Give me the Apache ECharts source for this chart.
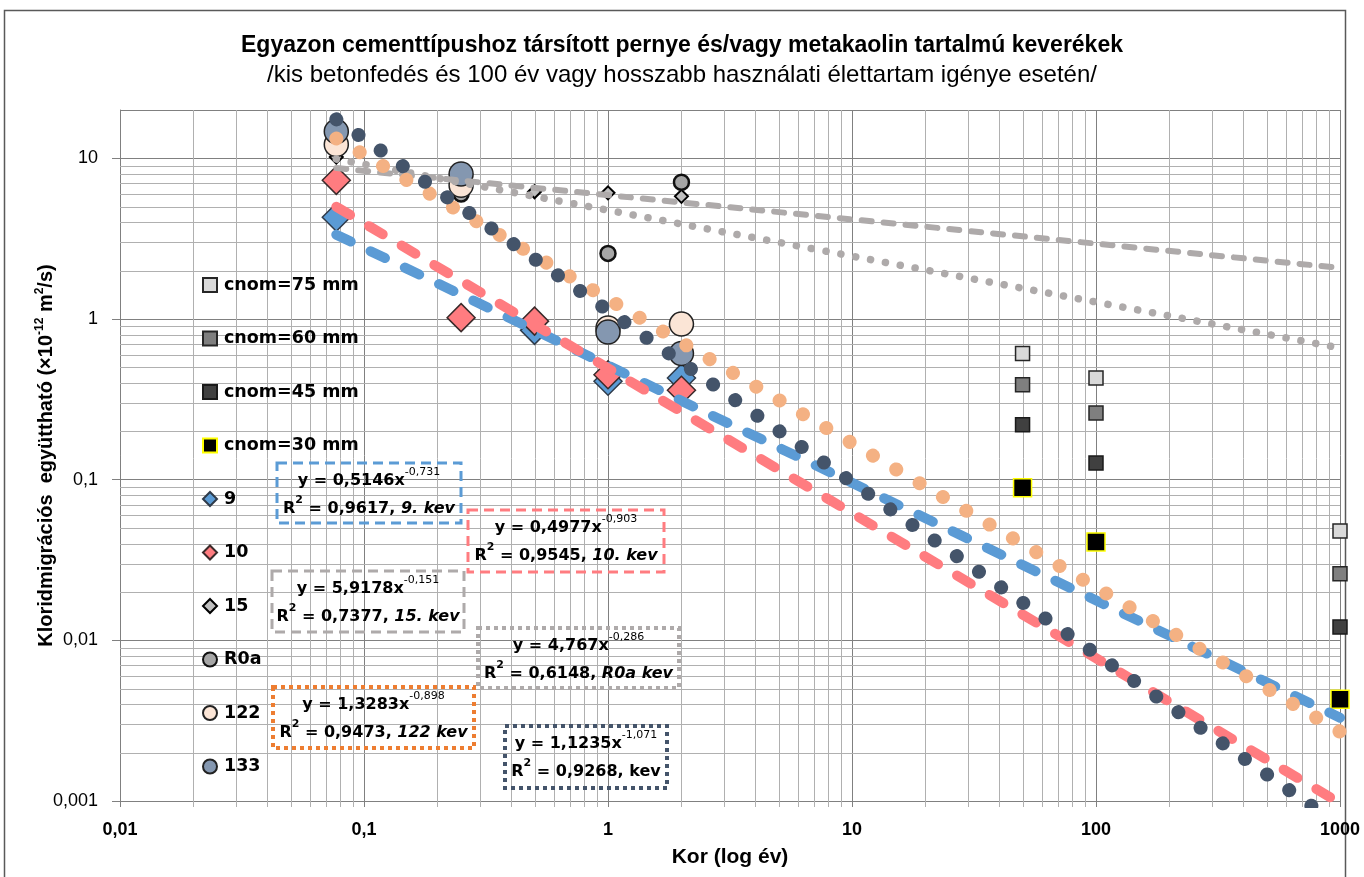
<!DOCTYPE html>
<html><head><meta charset="utf-8">
<script src="https://cdn.jsdelivr.net/npm/echarts@6/dist/echarts.min.js"></script>
<style>html,body{margin:0;padding:0;background:#fff}#c{width:1364px;height:877px}</style>
</head><body><div id="c"></div>
<script>
// ---- data (age in years, value in 1e-12 m2/s) ----
const cnom75 = [[50, 0.61], [100, 0.43], [1000, 0.048]];
const cnom60 = [[50, 0.39], [100, 0.26], [1000, 0.026]];
const cnom45 = [[50, 0.22], [100, 0.127], [1000, 0.0121]];
const cnom30 = [[50, 0.089], [100, 0.041], [1000, 0.0043]];
const mix9   = [[0.077, 4.3], [0.5, 0.85], [1, 0.41], [2, 0.43]];
const mix10  = [[0.077, 7.3], [0.25, 1.02], [0.5, 0.97], [1, 0.45], [2, 0.36]];
const mix15  = [[0.077, 10.2], [0.5, 6.2], [1, 6.1], [2, 5.8]];
const mixR0a = [[0.25, 6.0], [1, 2.56], [2, 7.1]];
const mix122 = [[0.077, 12.2], [0.25, 6.8], [1, 0.88], [2, 0.93]];
const mix133 = [[0.077, 14.7], [0.25, 8.0], [1, 0.83], [2, 0.61]];
// trend lines (power laws are straight on log-log axes: start and end points)
const trend9   = [[0.077, 3.35], [1000, 0.0033]];
const trend10  = [[0.077, 5.0], [1000, 0.00097]];
const trend15  = [[0.077, 8.7], [1000, 2.08]];
const trendR0a = [[0.077, 9.9], [1000, 0.66]];
const trend122 = [[0.077, 13.3], [1000, 0.0027]];
const trend133 = [[0.077, 17.5], [1000, 0.0007]];
// tick labels
const xTickLabels = ['0,01', '0,1', '1', '10', '100', '1000'];
const yTickLabels = ['0,001', '0,01', '0,1', '1', '10'];
const legendNames = ['cnom=75 mm', 'cnom=60 mm', 'cnom=45 mm', 'cnom=30 mm', '9', '10', '15', 'R0a', '122', '133'];
// equation boxes text
const eqMain = ['y = 0,5146x', 'y = 0,4977x', 'y = 5,9178x', 'y = 4,767x', 'y = 1,3283x', 'y = 1,1235x'];
const eqExp  = ['-0,731', '-0,903', '-0,151', '-0,286', '-0,898', '-1,071'];
const eqR2   = ['0,9617, ', '0,9545, ', '0,7377, ', '0,6148, ', '0,9473, ', '0,9268, '];
const eqTag  = ['9. kev', '10. kev', '15. kev', 'R0a kev', '122 kev', 'kev'];

const FONT = 'Liberation Sans';
const EQF = 'DejaVu Sans';

const minorX = []; for (let e = -2; e < 3; e++) for (let m = 2; m <= 9; m++) minorX.push(+(m * Math.pow(10, e)).toPrecision(3));
const minorY = []; for (let e = -3; e < 1; e++) for (let m = 2; m <= 9; m++) minorY.push(+(m * Math.pow(10, e)).toPrecision(3));

function fmt(labels, exps) {
  return function (v) {
    const l = Math.log10(v);
    if (Math.abs(l - Math.round(l)) > 1e-6) return '';
    const i = exps.indexOf(Math.round(l));
    return i >= 0 ? labels[i] : '';
  };
}

function sc(name, data, symbol, size, fill, border, bw) {
  return { type: 'scatter', name, data, symbol, symbolSize: size, clip: false, silent: true, z: 2,
    itemStyle: { color: fill, borderColor: border, borderWidth: bw, opacity: 1 } };
}
function tr(name, data, color, width, dash) {
  return { type: 'line', name, data, symbol: 'none', showSymbol: false, silent: true, z: 3, clip: true,
    lineStyle: { color, width, type: dash, cap: 'round' } };
}

const boxLayout = [
  { x: 277, y: 463, w: 184, h: 60, c: '#5b9bd5', dash: [10, 6], lw: 3, ital: true },
  { x: 468, y: 510, w: 196, h: 62, c: '#ff7c80', dash: [10, 6], lw: 3, ital: true },
  { x: 272, y: 571, w: 192, h: 61, c: '#aeaaaa', dash: [10, 6], lw: 3, ital: true },
  { x: 478, y: 628, w: 201, h: 60, c: '#aeaaaa', dash: [4, 4], lw: 4, ital: true },
  { x: 273, y: 687, w: 201, h: 61, c: '#ed7d31', dash: [4, 4], lw: 4, ital: true },
  { x: 505, y: 726, w: 162, h: 62, c: '#44546a', dash: [4, 4], lw: 4, ital: false }
];
const rich = {
  n: { fontFamily: EQF, fontWeight: 'bold', fontSize: 16, lineHeight: 28, align: 'center', fill: '#000' },
  i: { fontFamily: EQF, fontWeight: 'bold', fontStyle: 'italic', fontSize: 16, lineHeight: 28, align: 'center', fill: '#000' },
  s: { fontFamily: EQF, fontWeight: 'normal', fontSize: 11, lineHeight: 19, verticalAlign: 'top', align: 'center', fill: '#000' },
  s2: { fontFamily: EQF, fontWeight: 'bold', fontSize: 11, lineHeight: 20, verticalAlign: 'top', align: 'center', fill: '#000' }
};
const graphics = [
  { type: 'rect', shape: { x: 4.5, y: 10.5, width: 1341, height: 880 }, style: { fill: 'none', stroke: '#595959', lineWidth: 1.5 }, silent: true }
];
boxLayout.forEach((b, k) => {
  graphics.push({ type: 'rect', z: 10, silent: true, shape: { x: b.x, y: b.y, width: b.w, height: b.h },
    style: { fill: 'none', stroke: b.c, lineWidth: b.lw, lineDash: b.dash, lineCap: 'butt' } });
  const t = '{n|' + eqMain[k] + '}{s|' + eqExp[k] + '}\n{n|R}{s2|2}{n| = ' + eqR2[k] + '}{' + (b.ital ? 'i' : 'n') + '|' + eqTag[k] + '}';
  graphics.push({ type: 'text', z: 11, silent: true, x: b.x + b.w / 2, y: b.y + 4,
    style: { text: t, rich, align: 'center', verticalAlign: 'top' } });
});

const chart = echarts.init(document.getElementById('c'));
chart.setOption({
  animation: false,
  backgroundColor: '#fff',
  title: [
    { text: 'Egyazon cementtípushoz társított pernye és/vagy metakaolin tartalmú keverékek', left: 'center', top: 29,
      textStyle: { fontFamily: FONT, fontWeight: 'bold', fontSize: 23, color: '#000' } },
    { text: '/kis betonfedés és 100 év vagy hosszabb használati élettartam igénye esetén/', left: 'center', top: 58,
      textStyle: { fontFamily: FONT, fontWeight: 'normal', fontSize: 24, color: '#000' } }
  ],
  grid: { left: 120, right: 24, top: 110, bottom: 76 },
  legend: {
    orient: 'vertical', left: 197, top: 271, itemWidth: 14, itemHeight: 14, itemGap: 35.5,
    selectedMode: false, data: legendNames,
    textStyle: { fontFamily: EQF, fontWeight: 'bold', fontSize: 17.5, color: '#000', padding: [0, 0, 0, 2] }
  },
  xAxis: {
    type: 'log', logBase: 10, min: 0.01, max: 1000,
    axisLine: { show: true, lineStyle: { color: '#808080' } },
    axisTick: { show: true, length: 6, lineStyle: { color: '#808080' } },
    splitLine: { show: true, lineStyle: { color: '#808080', width: 1 } },
    axisLabel: { formatter: fmt(xTickLabels, [-2, -1, 0, 1, 2, 3]), fontFamily: FONT, fontWeight: 'bold', fontSize: 18, color: '#000', margin: 20 },
    name: 'Kor (log év)', nameLocation: 'middle', nameGap: 46, nameMoveOverlap: false,
    nameTextStyle: { fontFamily: FONT, fontWeight: 'bold', fontSize: 21, color: '#000' }
  },
  yAxis: {
    type: 'log', logBase: 10, min: 0.001, max: 20,
    axisLine: { show: true, lineStyle: { color: '#808080' } },
    axisTick: { show: true, length: 8, lineStyle: { color: '#808080' } },
    splitLine: { show: true, lineStyle: { color: '#808080', width: 1 } },
    axisLabel: { formatter: fmt(yTickLabels, [-3, -2, -1, 0, 1]), fontFamily: FONT, fontSize: 18, color: '#000', margin: 22, showMaxLabel: false },
    name: 'Kloridmigrációs  együttható (×10{sup|-12} m{sup|2}/s)', nameLocation: 'middle', nameGap: 62, nameMoveOverlap: false,
    nameTextStyle: { fontFamily: FONT, fontWeight: 'bold', fontSize: 20, color: '#000', lineHeight: 24,
      rich: { sup: { fontFamily: FONT, fontWeight: 'bold', fontSize: 12, lineHeight: 14, verticalAlign: 'top', color: '#000' } } }
  },
  graphic: graphics,
  series: [
    { type: 'custom', name: 'minorX', silent: true, z: 1, data: minorX.map(v => [v, 1]),
      renderItem(params, api) {
        const cs = params.coordSys; const x = Math.round(api.coord([api.value(0), 1])[0]) + 0.5;
        return { type: 'line', shape: { x1: x, y1: cs.y, x2: x, y2: cs.y + cs.height + 6 }, style: { stroke: '#b0b0b0', lineWidth: 1 } };
      } },
    { type: 'custom', name: 'minorY', silent: true, z: 1, data: minorY.map(v => [1, v]),
      renderItem(params, api) {
        const cs = params.coordSys; const y = Math.round(api.coord([1, api.value(1)])[1]) + 0.5;
        return { type: 'line', shape: { x1: cs.x, y1: y, x2: cs.x + cs.width, y2: y }, style: { stroke: '#b0b0b0', lineWidth: 1 } };
      } },
    sc('cnom=75 mm', cnom75, 'rect', 14, '#d9d9d9', '#262626', 1.5),
    sc('cnom=60 mm', cnom60, 'rect', 14, '#7f7f7f', '#262626', 1.5),
    sc('cnom=45 mm', cnom45, 'rect', 14, '#404040', '#1a1a1a', 1.5),
    sc('cnom=30 mm', cnom30, 'rect', 18, '#000000', '#ffff00', 1.5),
    sc('9', mix9, 'diamond', 28, '#5b9bd5', '#2f3b4a', 1.5),
    sc('10', mix10, 'diamond', 28, '#ff7c80', '#3a2a2a', 1.5),
    sc('15', mix15, 'diamond', 13, '#bfbfbf', '#000000', 2),
    sc('R0a', mixR0a, 'circle', 15, '#a6a6a6', '#111111', 2.5),
    sc('122', mix122, 'circle', 24, '#fbe5d6', '#222222', 1.5),
    sc('133', mix133, 'circle', 24, '#8497b0', '#222222', 1.5),
    tr('trend15', trend15, '#aeaaaa', 6, [10, 12]),
    tr('trendR0a', trendR0a, '#aeaaaa', 7.5, [0.1, 15]),
    tr('trend9', trend9, '#5b9bd5', 10, [16, 22]),
    tr('trend10', trend10, '#ff7c80', 10, [16, 22]),
    tr('trend122', trend122, '#f4b183', 14, [0.1, 27]),
    tr('trend133', trend133, '#44546a', 14, [0.1, 27])
  ]
});
</script></body></html>
